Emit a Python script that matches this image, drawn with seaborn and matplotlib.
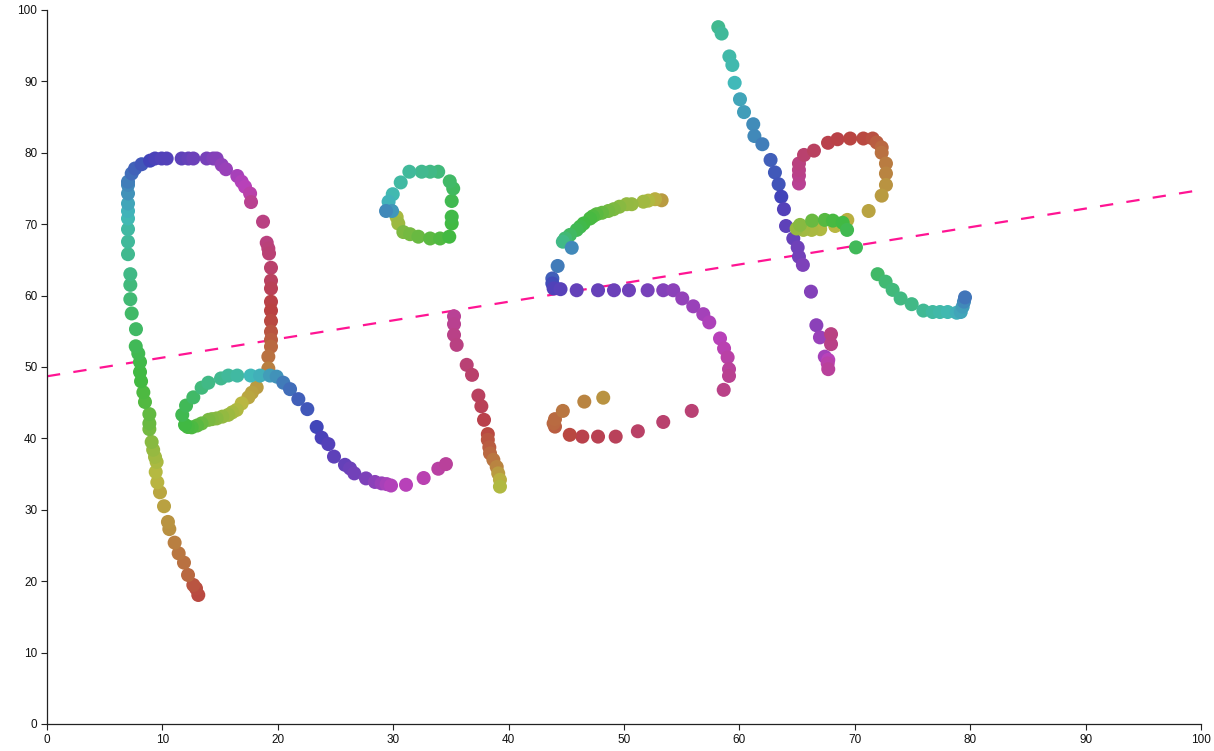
#!/usr/bin/python

import numpy as np
import pandas as pd
import matplotlib
matplotlib.use('Agg')
import matplotlib.pyplot as plt
import seaborn as sns

# first letter, from the bottom of the long stem
x_r = [13.11, 12.91, 12.68, 12.22, 11.87, 11.41, 11.06, 10.6, 10.48, 10.14, 9.79, 9.56, 9.42, 9.5, 9.36, 9.2, 9.07,
       8.87, 8.87, 8.87, 8.49, 8.35, 8.15, 8.06, 8.06, 7.91, 7.69, 7.71, 7.34, 7.22, 7.22, 7.22, 7.02, 7.02, 7.02,
       7.02, 7.02, 7.02, 7.02, 7.02, 7.02, 7.34, 7.63, 8.2, 8.93, 9.36, 9.94, 10.37, 11.67, 12.25, 12.68, 13.84,
       14.41, 14.7, 15.14, 15.51, 16.49, 16.87, 17.16, 17.6, 17.68, 18.72, 19.04, 19.18, 19.24, 19.41, 19.41, 19.41,
       19.41, 19.41, 19.41, 19.41, 19.41, 19.41, 19.18, 19.18, 18.17, 17.75, 17.45, 16.87, 16.44, 16.05, 15.71, 15.2,
       14.7, 14.3, 14.0, 13.4, 13.0, 12.54, 12.2, 11.96, 11.72, 12.05, 12.68, 13.4, 13.98, 15.08, 15.71, 16.49, 17.65,
       18.46, 19.32, 19.9, 20.48, 21.06, 21.78, 22.56, 23.37, 23.8, 24.38, 24.87, 25.82, 26.26, 26.63, 27.64, 28.42,
       29.0, 29.43, 29.81, 31.11, 32.64, 33.91, 34.57]
y_r = [18.07, 19.0, 19.47, 20.87, 22.6, 23.9, 25.4, 27.3, 28.3, 30.5, 32.45, 33.85, 35.3, 36.7, 37.4, 38.4, 39.5,
       41.3, 42.1, 43.4, 45.1, 46.45, 48.0, 49.3, 50.7, 51.9, 52.9, 55.3, 57.5, 59.5, 61.5, 63.0, 65.8, 67.55, 69.3,
       70.8, 71.85, 72.9, 74.3, 75.5, 75.95, 77.1, 77.8, 78.4, 78.9, 79.2, 79.2, 79.2, 79.2, 79.2, 79.2, 79.2,
       79.2, 79.2, 78.3, 77.7, 76.75, 75.95, 75.25, 74.3, 73.1, 70.35, 67.4, 66.6, 65.9, 63.9, 62.1, 61.0,
       59.15, 57.9, 56.45, 54.95, 53.8, 52.85, 51.45, 49.8, 47.15, 46.4, 45.75, 44.9, 44.0, 43.65, 43.3, 43.05,
       42.8, 42.7, 42.6, 42.1, 41.8, 41.55, 41.6, 41.9, 43.3, 44.6, 45.75, 47.1, 47.8, 48.4, 48.8, 48.8, 48.8,
       48.8, 48.8, 48.65, 47.8, 46.9, 45.5, 44.1, 41.6, 40.1, 39.2, 37.45, 36.3, 35.8, 35.1, 34.4, 33.9,
       33.7, 33.6, 33.4, 33.5, 34.45, 35.75, 36.4]
hue_r = [5, 7, 10, 20, 25, 28, 32, 40, 42, 48, 52, 58, 62, 68, 72, 78, 85,
         95, 100, 105, 112, 115, 120, 122, 125, 128, 132, 138, 140, 145, 150, 155, 160, 165, 170,
         178, 183, 190, 200, 205, 210, 218, 224, 230, 240, 245, 248, 250, 255, 258, 262, 268,
         272, 275, 280, 285, 292, 296, 300, 308, 322, 328, 330, 332, 335, 340, 345, 350,
         358, 0, 5, 10, 15, 20, 25, 32, 45, 48, 52, 60, 66, 70, 75, 80,
         85, 88, 92, 100, 108, 115, 118, 122, 128, 132, 140, 150, 155, 160, 165, 170, 180,
         185, 195, 200, 212, 218, 225, 230, 238, 245, 250, 255, 258, 262, 265, 270, 278,
         285, 292, 298, 300, 305, 312, 315]

# second letter
x_i = [35.27, 35.27, 35.27, 35.5, 36.37, 36.83, 37.38, 37.64, 37.87, 38.2, 38.2, 38.33, 38.39, 38.68, 38.97, 39.1,
       39.25, 39.25]
y_i = [57.1, 56.0, 54.5, 53.1, 50.3, 48.9, 46.0, 44.5, 42.6, 40.6, 39.8, 38.75, 37.9, 37.0, 36.0, 35.1,
       34.2, 33.25]
hue_i = [318, 322, 325, 328, 335, 340, 345, 350, 355, 5, 10, 15, 20, 28, 35, 45, 55, 65]

# closed loop next to it
x_o = [30.3, 30.44, 30.88, 31.46, 32.18, 33.2, 34.06, 34.86, 35.07, 35.07, 35.07, 35.2, 34.9, 33.9, 33.2, 32.47,
       31.4, 30.65, 29.96, 29.6, 29.9, 29.38]
y_o = [71.0, 70.1, 68.9, 68.6, 68.25, 68.0, 68.0, 68.25, 70.1, 71.05, 73.25, 75.0, 76.0, 77.35, 77.35, 77.35,
       77.35, 75.85, 74.2, 73.15, 71.85, 71.85]
hue_o = [70, 75, 90, 95, 100, 108, 113, 120, 122, 124, 128, 135, 140, 150, 155, 160,
         165, 170, 177, 183, 198, 205]

# the s
x_s = [53.26, 52.69, 52.1, 51.68, 50.67, 50.23, 49.6, 49.1, 48.64, 48.1, 47.63, 47.3, 47.06, 46.5, 46.2, 45.9,
       45.32, 44.9, 44.7, 45.47,
       44.25, 43.79, 43.79, 43.9, 44.5, 45.9, 47.75, 49.13, 50.43, 52.05, 53.4, 54.27, 55.05, 56.0, 56.87, 57.39,
       58.32, 58.67, 58.98, 59.1, 59.1, 58.64, 55.87, 53.4, 51.2, 49.28, 47.75, 46.39, 45.3, 44.02, 43.9, 44.02,
       44.7, 46.56, 48.2]
y_s = [73.35, 73.5, 73.3, 73.15, 72.8, 72.8, 72.45, 72.1, 71.85, 71.6, 71.4, 71.1, 70.8, 70.1, 69.65, 69.2,
       68.5, 68.0, 67.55, 66.7,
       64.15, 62.4, 61.7, 61.0, 60.9, 60.75, 60.75, 60.75, 60.75, 60.75, 60.75, 60.75, 59.6, 58.5, 57.4, 56.25,
       54.0, 52.6, 51.35, 49.7, 48.75, 46.8, 43.85, 42.3, 41.0, 40.25, 40.25, 40.25, 40.5, 41.65, 42.1, 42.7,
       43.85, 45.15, 45.7]
hue_s = [45, 55, 65, 72, 78, 80, 85, 90, 95, 102, 108, 113, 118, 122, 126, 130,
         137, 145, 155, 205,
         212, 225, 235, 248, 253, 258, 260, 262, 264, 268, 274, 278, 282, 285, 290, 295,
         300, 305, 310, 315, 322, 325, 335, 338, 342, 348, 352, 355, 3, 15, 20, 22,
         28, 35, 42]

# stem of the k
x_k = [58.17, 58.46, 59.13, 59.39, 59.59, 60.05, 60.4, 61.2, 61.3, 61.99, 62.7, 63.08, 63.4, 63.63, 63.86, 64.04,
       64.67, 65.05, 65.16, 65.5, 66.2, 66.67, 66.98, 67.4, 67.7, 67.65, 67.7, 67.94, 67.94]
y_k = [97.6, 96.7, 93.5, 92.3, 89.8, 87.5, 85.7, 84.0, 82.35, 81.2, 79.0, 77.25, 75.6, 73.85, 72.1, 69.75,
       68.0, 66.75, 65.45, 64.3, 60.55, 55.85, 54.15, 51.45, 51.0, 50.5, 49.7, 53.2, 54.6]
hue_k = [160, 165, 172, 175, 180, 190, 195, 203, 205, 210, 225, 228, 232, 240, 250, 255,
         260, 263, 265, 270, 273, 278, 285, 290, 300, 308, 315, 325, 328]

# arm and leg of the k
x_a = [65.16, 65.16, 65.16, 65.16, 65.6, 66.46, 67.68, 68.5, 69.6, 70.74, 71.55, 71.9, 72.33, 72.33, 72.7, 72.7,
       72.7, 72.33, 71.2, 69.35, 68.3, 67.0, 66.26, 65.54, 64.96, 65.25, 66.3, 67.4, 68.1, 68.95, 69.33, 70.1,
       71.98, 72.67, 73.28, 73.97, 74.93, 75.94, 76.75, 77.38, 78.05, 78.83, 79.18, 79.35, 79.46, 79.55]
y_a = [75.7, 76.8, 77.6, 78.5, 79.7, 80.3, 81.4, 81.9, 82.0, 82.0, 82.0, 81.45, 80.75, 80.0, 78.5, 77.1,
       75.5, 74.0, 71.85, 70.6, 69.75, 69.3, 69.2, 69.2, 69.4, 69.9, 70.5, 70.6, 70.5, 70.2, 69.2, 66.75,
       63.0, 61.95, 60.8, 59.6, 58.8, 57.9, 57.7, 57.7, 57.7, 57.6, 57.7, 58.45, 59.15, 59.75]
hue_a = [320, 323, 325, 330, 338, 345, 355, 358, 2, 5, 8, 15, 20, 25, 30, 35,
         42, 46, 50, 55, 60, 65, 68, 72, 78, 85, 100, 110, 118, 122, 128, 133,
         140, 145, 150, 152, 155, 162, 168, 172, 177, 185, 190, 195, 205, 215]

line_x = [0, 100]
line_y = [48.7, 74.8]
ticks = list(range(0, 101, 10))

df = pd.DataFrame({
    'x': x_r + x_i + x_o + x_s + x_k + x_a,
    'y': y_r + y_i + y_o + y_s + y_k + y_a,
    'hue': hue_r + hue_i + hue_o + hue_s + hue_k + hue_a,
})

sns.set_style('ticks')
plt.rcParams['font.family'] = ['Liberation Sans', 'DejaVu Sans']

fig = plt.figure(figsize=(12.14, 7.51), dpi=100)
ax = fig.add_axes([47/1214, 1 - 724/751, 1154/1214, 714/751])

ax.plot(line_x, line_y, color='#ff1493', linewidth=1.6, dashes=(6, 6), zorder=1)

cmap = sns.hls_palette(256, h=0, l=0.49, s=0.48, as_cmap=True)
sns.scatterplot(data=df, x='x', y='y', hue='hue', palette=cmap, hue_norm=(0, 360),
                s=102, linewidth=0, legend=False, ax=ax, zorder=2, clip_on=False)

ax.set_xlim(0, 100)
ax.set_ylim(0, 100)
ax.set_xticks(ticks)
ax.set_yticks(ticks)
ax.set_xlabel('')
ax.set_ylabel('')
ax.tick_params(length=4.5, width=0.8, color='#222222', labelsize=8.5, pad=2.5, labelcolor='#111111')
for s in ['left', 'bottom']:
    ax.spines[s].set_linewidth(0.9)
    ax.spines[s].set_color('#222222')
sns.despine(ax=ax)

fig.savefig('out.png', dpi=100)
plt.close(fig)
